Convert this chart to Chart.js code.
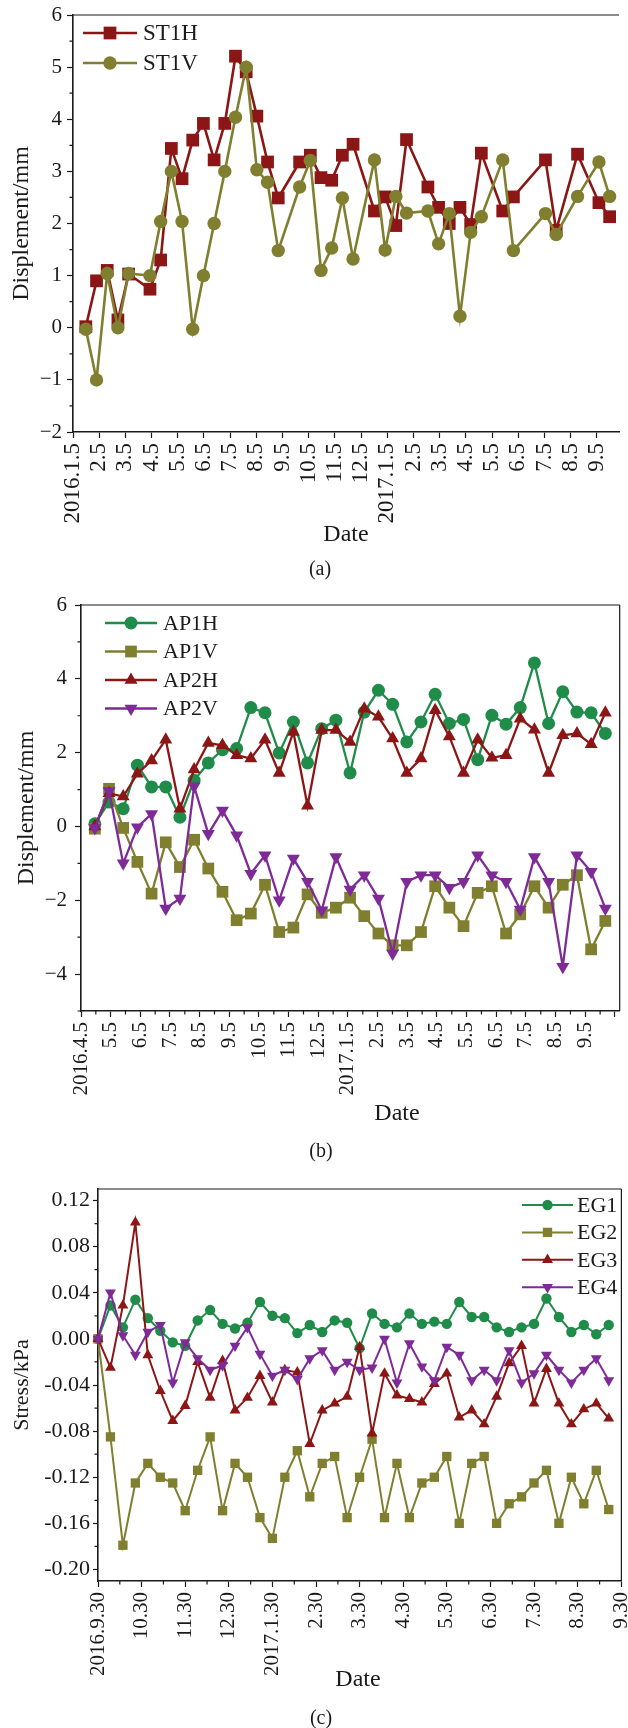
<!DOCTYPE html>
<html lang="en">
<head>
    <meta charset="UTF-8">
    <title>Displacement and stress monitoring</title>
    <script src="https://cdn.jsdelivr.net/npm/chart.js"></script>
    <style>
        body { margin: 0; background: #fff; }
        #page { position: relative; width: 628px; height: 1728px; overflow: hidden; }
        canvas { position: absolute; left: 0; }
        .lbl {
            position: absolute;
            transform: translate(-50%, -50%);
            font-family: "Liberation Serif", "Times New Roman", serif;
            color: #1a1a1a;
            line-height: 1;
            white-space: nowrap;
        }
    </style>
</head>
<body>
<div id="page">
    <canvas id="chartA" width="628" height="580" style="top:0"></canvas>
    <canvas id="chartB" width="628" height="580" style="top:580px"></canvas>
    <canvas id="chartC" width="628" height="568" style="top:1160px"></canvas>

    <div class="lbl" style="left:346px;top:533px;font-size:24px">Date</div>
    <div class="lbl" style="left:320px;top:568px;font-size:20px">(a)</div>
    <div class="lbl" style="left:397px;top:1112px;font-size:24px">Date</div>
    <div class="lbl" style="left:321px;top:1150px;font-size:20px">(b)</div>
    <div class="lbl" style="left:358px;top:1678px;font-size:24px">Date</div>
    <div class="lbl" style="left:321px;top:1717px;font-size:20px">(c)</div>
</div>

<script>
    // ---- (a) ST1 displacement, one reading roughly every 12 days from 2016.1 ----
    const xLabelsA = ['2016.1.5', '2.5', '3.5', '4.5', '5.5', '6.5', '7.5', '8.5', '9.5', '10.5', '11.5', '12.5',
                      '2017.1.5', '2.5', '3.5', '4.5', '5.5', '6.5', '7.5', '8.5', '9.5'];
    const yTicksA = [-2, -1, 0, 1, 2, 3, 4, 5, 6];
    const st1h = [0.02, 0.90, 1.10, 0.15, 1.03, null, 0.74, 1.30, 3.44, 2.86,
                  3.60, 3.92, 3.22, 3.92, 5.21, 4.91, 4.06, 3.18, 2.49, null,
                  3.18, 3.31, 2.88, 2.83, 3.31, 3.52, null, 2.24, 2.51, 1.96,
                  3.61, null, 2.70, 2.31, 2.00, 2.31, 1.98, 3.35, null, 2.24,
                  2.51, null, null, 3.22, 1.87, null, 3.33, null, 2.40, 2.13];
    const st1v = [-0.03, -1.00, 1.04, 0.00, 1.04, null, 1.00, 2.04, 3.00, 2.04,
                  -0.03, 1.00, 2.00, 3.00, 4.04, 5.00, 3.03, 2.79, 1.48, null,
                  2.70, 3.21, 1.10, 1.53, 2.49, 1.32, null, 3.22, 1.49, 2.52,
                  2.20, null, 2.24, 1.61, 2.19, 0.22, 1.83, 2.13, null, 3.22,
                  1.48, null, null, 2.19, 1.79, null, 2.52, null, 3.18, 2.52];

    // ---- (b) AP1 / AP2 displacement, twice a month from 2016.4 ----
    const xLabelsB = ['2016.4.5', '5.5', '6.5', '7.5', '8.5', '9.5', '10.5', '11.5', '12.5',
                      '2017.1.5', '2.5', '3.5', '4.5', '5.5', '6.5', '7.5', '8.5', '9.5', ''];
    const yTicksB = [-4, -2, 0, 2, 4, 6];
    const ap1h = [0.07, 0.66, 0.48, 1.66, 1.07, 1.07, 0.25, 1.25, 1.72, 2.08,
                  2.11, 3.22, 3.08, 1.99, 2.83, 1.72, 2.65, 2.88, 1.45, 3.10,
                  3.69, 3.31, 2.29, 2.83, 3.58, 2.79, 2.90, 1.81, 3.01, 2.77,
                  3.22, 4.43, 2.79, 3.65, 3.10, 3.08, 2.52];
    const ap1v = [-0.06, 1.02, -0.04, -0.96, -1.82, -0.43, -1.10, -0.36, -1.14, -1.77,
                  -2.54, -2.36, -1.58, -2.86, -2.74, -1.84, -2.34, -2.20, -1.93, -2.43,
                  -2.90, -3.22, -3.22, -2.86, -1.62, -2.20, -2.70, -1.80, -1.62, -2.90,
                  -2.38, -1.62, -2.20, -1.58, -1.32, -3.33, -2.56];
    const ap2h = [0.00, 0.90, 0.81, 1.43, 1.79, 2.35, 0.48, 1.54, 2.26, 2.20,
                  1.93, 1.84, 2.35, 1.45, 2.56, 0.56, 2.61, 2.61, 2.29, 3.19,
                  2.97, 2.38, 1.45, 1.84, 3.15, 2.44, 1.45, 2.35, 1.86, 1.93,
                  2.92, 2.62, 1.45, 2.47, 2.52, 2.23, 3.08];
    const ap2v = [-0.04, 0.96, -1.00, -0.02, 0.34, -2.22, -1.95, 1.09, -0.20, 0.43,
                  -0.24, -1.28, -0.78, -2.00, -0.87, -1.50, -2.27, -0.83, -1.71, -1.32,
                  -1.95, -3.44, -1.50, -1.32, -1.32, -1.66, -1.50, -0.78, -1.32, -1.50,
                  -2.25, -0.83, -1.50, -3.80, -0.78, -1.23, -2.22];

    // ---- (c) earth pressure gauges, from 2016.9.30 ----
    const xLabelsC = ['2016.9.30', '10.30', '11.30', '12.30', '2017.1.30', '2.30', '3.30',
                      '4.30', '5.30', '6.30', '7.30', '8.30', '9.30'];
    const yTicksC = [-0.20, -0.16, -0.12, -0.08, -0.04, 0.00, 0.04, 0.08, 0.12];
    const eg1 = [0, 0.029, 0.010, 0.034, 0.018, 0.007, -0.003, -0.006, 0.016, 0.025,
                 0.013, 0.009, 0.014, 0.032, 0.020, 0.018, 0.005, 0.012, 0.006, 0.016,
                 0.014, -0.008, 0.022, 0.013, 0.010, 0.022, 0.013, 0.015, 0.013, 0.032,
                 0.019, 0.019, 0.010, 0.006, 0.010, 0.013, 0.035, 0.019, 0.006, 0.012,
                 0.004, 0.012];
    const eg2 = [0, -0.085, -0.179, -0.125, -0.108, -0.120, -0.125, -0.149, -0.114, -0.085,
                 -0.149, -0.108, -0.120, -0.155, -0.173, -0.120, -0.097, -0.137, -0.108, -0.102,
                 -0.155, -0.120, -0.087, -0.155, -0.108, -0.155, -0.125, -0.120, -0.102, -0.160,
                 -0.108, -0.102, -0.160, -0.143, -0.137, -0.125, -0.114, -0.160, -0.120, -0.143,
                 -0.114, -0.148];
    const eg3 = [0, -0.025, 0.029, 0.101, -0.014, -0.045, -0.071, -0.058, -0.020, -0.051,
                 -0.019, -0.062, -0.051, -0.032, -0.055, -0.027, -0.029, -0.091, -0.062, -0.056,
                 -0.050, -0.007, -0.082, -0.030, -0.049, -0.052, -0.055, -0.039, -0.030, -0.068,
                 -0.062, -0.074, -0.050, -0.021, -0.006, -0.056, -0.026, -0.056, -0.074, -0.061,
                 -0.056, -0.069];
    const eg4 = [0, 0.040, 0.003, -0.014, 0.006, 0.012, -0.038, -0.003, -0.017, -0.027,
                 -0.023, -0.006, 0.010, -0.013, -0.032, -0.027, -0.035, -0.017, -0.010, -0.027,
                 -0.020, -0.027, -0.025, 0.000, -0.038, -0.004, -0.024, -0.036, -0.007, -0.014,
                 -0.036, -0.027, -0.036, -0.010, -0.038, -0.030, -0.014, -0.027, -0.038, -0.027,
                 -0.017, -0.036];

    // colours
    const ink = '#1a1a1a';
    const wine = '#8c1616';
    const olive = '#7f7f2f';
    const green = '#1f8c4a';
    const purple = '#7e2a97';

    Chart.defaults.font.family = '"Liberation Serif", "Times New Roman", serif';
    Chart.defaults.color = ink;

    // x position (in months from the first axis label) of each reading
    function toPoints(values, first, step) {
        return values.map((v, i) => ({ x: first + i * step, y: v }));
    }

    function drawMarker(ctx, style, r, rot, x, y) {
        ctx.beginPath();
        if (style === 'rect') {
            const s = r * Math.SQRT1_2;
            ctx.rect(x - s, y - s, 2 * s, 2 * s);
        } else if (style === 'triangle') {
            let a = (rot || 0) * Math.PI / 180;
            ctx.moveTo(x + Math.sin(a) * r, y - Math.cos(a) * r);
            a += 2 * Math.PI / 3;
            ctx.lineTo(x + Math.sin(a) * r, y - Math.cos(a) * r);
            a += 2 * Math.PI / 3;
            ctx.lineTo(x + Math.sin(a) * r, y - Math.cos(a) * r);
            ctx.closePath();
        } else {
            ctx.arc(x, y, r, 0, Math.PI * 2);
        }
        ctx.fill();
    }

    // legend with a short line and the marker in the middle
    const lineLegend = {
        id: 'lineLegend',
        afterDraw(chart, args, o) {
            const ctx = chart.ctx;
            ctx.save();
            ctx.font = o.font + 'px "Liberation Serif", "Times New Roman", serif';
            ctx.textBaseline = 'middle';
            chart.data.datasets.forEach((ds, i) => {
                const y = o.y + i * o.gap;
                ctx.strokeStyle = ds.borderColor;
                ctx.lineWidth = ds.borderWidth;
                ctx.beginPath();
                ctx.moveTo(o.x, y);
                ctx.lineTo(o.x + o.len, y);
                ctx.stroke();
                ctx.fillStyle = ds.backgroundColor;
                drawMarker(ctx, ds.pointStyle, ds.pointRadius, ds.pointRotation, o.x + o.len / 2, y);
                ctx.fillStyle = ink;
                ctx.fillText(ds.label, o.textX, y + 1);
            });
            ctx.restore();
        }
    };

    // top / right frame and the short minor ticks
    const frame = {
        id: 'frame',
        afterDraw(chart, args, o) {
            const { ctx, chartArea: a, scales: { x, y } } = chart;
            ctx.save();
            ctx.strokeStyle = ink;
            ctx.lineWidth = 1.2;
            ctx.beginPath();
            ctx.moveTo(a.left, a.top);
            ctx.lineTo(a.right, a.top);
            if (o.right) {
                ctx.moveTo(a.right, a.top);
                ctx.lineTo(a.right, a.bottom);
            }
            o.xMinor.forEach(v => {
                const px = x.getPixelForValue(v);
                ctx.moveTo(px, a.bottom);
                ctx.lineTo(px, a.bottom + 3.5);
            });
            o.yMinor.forEach(v => {
                const py = y.getPixelForValue(v);
                ctx.moveTo(a.left, py);
                ctx.lineTo(a.left - 3.5, py);
            });
            ctx.stroke();
            ctx.restore();
        }
    };

    function line(label, points, color, style, radius, width, extra) {
        return Object.assign({
            label: label,
            data: points,
            borderColor: color,
            backgroundColor: color,
            borderWidth: width,
            pointStyle: style,
            pointRadius: radius,
            pointBorderWidth: 0,
            pointBackgroundColor: color,
            spanGaps: true,
            tension: 0,
            clip: false
        }, extra || {});
    }

    function midpoints(n) {
        const out = [];
        for (let i = 0; i < n; i++) out.push(i + 0.5);
        return out;
    }

    function build(id, g, datasets, xLabels, yTicks, yFmt, yTitle, legend, minor) {
        datasets.forEach((d, i) => { d.order = datasets.length - i; });
        return new Chart(document.getElementById(id), {
            type: 'line',
            data: { datasets: datasets },
            options: {
                responsive: false,
                animation: false,
                events: [],
                layout: { padding: { left: 0, top: g.top, right: g.w - g.right, bottom: 0 } },
                plugins: {
                    legend: { display: false },
                    tooltip: { enabled: false },
                    lineLegend: legend,
                    frame: minor
                },
                scales: {
                    x: {
                        type: 'linear',
                        min: 0,
                        max: g.xMax,
                        afterBuildTicks: s => { s.ticks = xLabels.map((_, i) => ({ value: i })); },
                        afterFit: s => { s.height = g.h - g.bottom; s.paddingLeft = 0; s.paddingRight = 0; },
                        ticks: {
                            autoSkip: false,
                            minRotation: 90,
                            maxRotation: 90,
                            padding: 5,
                            font: { size: g.xFont },
                            callback: (v, i) => xLabels[i]
                        },
                        grid: { drawOnChartArea: false, tickLength: 6, tickColor: ink, tickWidth: 1.2 },
                        border: { color: ink, width: 1.6 }
                    },
                    y: {
                        min: g.yMin,
                        max: g.yMax,
                        afterBuildTicks: s => { s.ticks = yTicks.map(v => ({ value: v })); },
                        afterFit: s => { s.width = g.left; s.paddingTop = 0; s.paddingBottom = 0; },
                        ticks: { padding: g.yPad, font: { size: g.yFont }, callback: v => yFmt(v) },
                        grid: { drawOnChartArea: false, tickLength: g.yTick, tickColor: ink, tickWidth: 1.2 },
                        border: { color: ink, width: 1.6 },
                        title: {
                            display: true,
                            text: yTitle,
                            font: { size: g.titleFont },
                            padding: { top: g.titlePad, bottom: 0 }
                        }
                    }
                }
            },
            plugins: [lineLegend, frame]
        });
    }

    const signed = v => (v < 0 ? '\u2212' + Math.abs(v) : String(v));

    // (a)
    build('chartA',
        { w: 628, h: 580, left: 73, top: 15, right: 628, bottom: 432, xMax: 20.84,
          yMin: -2, yMax: 6, xFont: 23, yFont: 21, yPad: 5, yTick: 6, titleFont: 24, titlePad: 7 },
        [
            line('ST1H', toPoints(st1h, 0.49, 0.408), wine, 'rect', 9, 2.6),
            line('ST1V', toPoints(st1v, 0.49, 0.408), olive, 'circle', 6.7, 2.6)
        ],
        xLabelsA, yTicksA, signed, 'Displement/mm',
        { x: 83, len: 54, y: 33, gap: 30, textX: 143, font: 23 },
        { right: false, xMinor: [], yMinor: [-1.5, -0.5, 0.5, 1.5, 2.5, 3.5, 4.5, 5.5] });

    // (b)
    build('chartB',
        { w: 628, h: 580, left: 81, top: 25, right: 625, bottom: 431, xMax: 18.16,
          yMin: -5, yMax: 6, xFont: 21, yFont: 21, yPad: 8, yTick: 6, titleFont: 24, titlePad: 12 },
        [
            line('AP1H', toPoints(ap1h, 0.467, 0.478), green, 'circle', 6.5, 2.3),
            line('AP1V', toPoints(ap1v, 0.467, 0.478), olive, 'rect', 8.3, 2.3),
            line('AP2H', toPoints(ap2h, 0.467, 0.478), wine, 'triangle', 7.5, 2.3),
            line('AP2V', toPoints(ap2v, 0.467, 0.478), purple, 'triangle', 7.5, 2.3, { pointRotation: 180 })
        ],
        xLabelsB, yTicksB, signed, 'Displement/mm',
        { x: 105, len: 52, y: 43, gap: 28.5, textX: 163, font: 22 },
        { right: true, xMinor: midpoints(18), yMinor: [-5, -3, -1, 1, 3, 5] });

    // (c)
    build('chartC',
        { w: 628, h: 568, left: 98, top: 29, right: 625, bottom: 421, xMax: 12,
          yMin: -0.21, yMax: 0.13, xFont: 21, yFont: 22, yPad: 3, yTick: 5, titleFont: 22, titlePad: 9 },
        [
            line('EG1', toPoints(eg1, 0, 0.2856), green, 'circle', 5.2, 2),
            line('EG2', toPoints(eg2, 0, 0.2856), olive, 'rect', 6.6, 2),
            line('EG3', toPoints(eg3, 0, 0.2856), wine, 'triangle', 6.3, 2),
            line('EG4', toPoints(eg4, 0, 0.2856), purple, 'triangle', 6.3, 2, { pointRotation: 180 })
        ],
        xLabelsC, yTicksC, v => v.toFixed(2), 'Stress/kPa',
        { x: 522, len: 51, y: 45, gap: 27.4, textX: 577, font: 22 },
        { right: true, xMinor: midpoints(12),
          yMinor: [-0.18, -0.14, -0.10, -0.06, -0.02, 0.02, 0.06, 0.10] });
</script>
</body>
</html>
